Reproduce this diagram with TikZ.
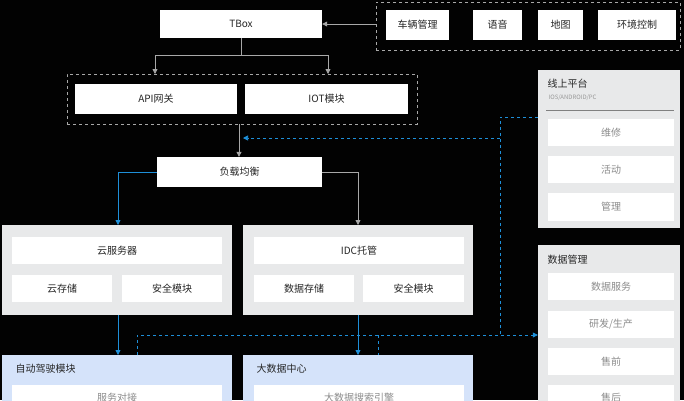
\documentclass[tikz,border=0pt]{standalone}
\usepackage{fontspec}
\setmainfont{Noto Sans CJK SC}
\usetikzlibrary{arrows.meta}
\definecolor{bgc}{HTML}{020202}
\definecolor{pan}{HTML}{E8E9EA}
\definecolor{lbc}{HTML}{D5E3FA}
\definecolor{bl}{HTML}{1E8FD8}
\definecolor{gl}{HTML}{A8A8A8}
\tikzset{
 wb/.style={fill=white,draw=none,font=\fontsize{10}{12}\selectfont,text=black!85},
 gi/.style={fill=white,draw=none,font=\fontsize{10}{12}\selectfont,text=black!45},
 panel/.style={fill=pan,draw=none},
 lpanel/.style={fill=lbc,draw=none},
 dbox/.style={draw=gl,dashed,line width=0.6pt},
 ga/.style={draw=gl,line width=0.8pt,-{Triangle[length=5pt,width=5pt]}},
 gln/.style={draw=gl,line width=0.8pt},
 ba/.style={draw=bl,line width=0.8pt,-{Triangle[length=5pt,width=5pt]}},
 bd/.style={draw=bl,line width=0.7pt,dashed},
 bda/.style={bd,-{Triangle[length=5pt,width=5pt]}},
 ttl/.style={font=\fontsize{10}{12}\selectfont,text=black!85,anchor=west},
}
\newcommand{\bx}[6]{\node[#1,minimum width=#4-#2,minimum height=#5-#3,inner sep=0pt] (#6) at ({(#2+#4)/2},{(#3+#5)/2})}
\begin{document}
\begin{tikzpicture}[x=1pt,y=-1pt]
\path[fill=bgc] (0,0) rectangle (684,400);
\useasboundingbox (0,0) rectangle (684,400);
% top right dashed group
\node[dbox,minimum width=304,minimum height=48,inner sep=0pt] (devs) at (528,26) {};
\bx{wb}{386}{10}{449}{40}{c1}{车辆管理};
\bx{wb}{473}{10}{522}{40}{c2}{语音};
\bx{wb}{538}{10}{583}{40}{c3}{地图};
\bx{wb}{598}{10}{676}{40}{c4}{环境控制};
\bx{wb}{160}{10}{322}{38}{tbox}{TBox};
\draw[ga] (devs.west |- tbox.east) -- (tbox.east);
% gateway group
\node[dbox,minimum width=350,minimum height=50,inner sep=0pt] (gw) at (242,99) {};
\bx{wb}{75}{84}{237}{114}{api}{API网关};
\bx{wb}{245}{84}{408}{114}{iot}{IOT模块};
\coordinate (sp) at (241,55);
\draw[gln] (tbox.south -| sp) -- (sp);
\draw[ga] (sp) -| (155,74);
\draw[ga] (sp) -| (328,74);
\bx{wb}{157}{157}{322}{187}{lb1}{负载均衡};
\draw[ga] (gw.south -| lb1.north) ++(-0.5,0) -- ([xshift=-0.5pt]lb1.north);
% cloud groups
\bx{panel}{2}{225}{232}{315}{gL}{};
\bx{panel}{243}{225}{473}{315}{gR}{};
\bx{wb}{12}{237}{222}{264}{cs}{云服务器};
\bx{wb}{12}{275}{112}{302}{cc}{云存储};
\bx{wb}{122}{275}{222}{302}{ca}{安全模块};
\bx{wb}{254}{237}{464}{264}{idc}{IDC托管};
\bx{wb}{254}{275}{354}{302}{ds}{数据存储};
\bx{wb}{363}{275}{464}{302}{da}{安全模块};
\draw[ba] (lb1.west) -| (118,225);
\draw[ga] (lb1.east) -| (358,225);
% bottom
\bx{lpanel}{2}{355}{232}{402}{ad}{};
\bx{lpanel}{243}{355}{473}{402}{bdc}{};
\node[ttl] (adt) at (12,369) {自动驾驶模块};
\node[ttl] (bdt) at (253,369) {大数据中心};
\bx{gi}{12}{385}{222}{410}{fw}{服务对接};
\bx{gi}{254}{385}{464}{410}{ss}{大数据搜索引擎};
\draw[ba] (118,315) -- (118,355);
\draw[ba] (358,315) -- (358,355);
% right panels
\bx{panel}{538}{70}{680}{228}{op}{};
\node[ttl] (opt) at (544,84) {线上平台};
\node[anchor=west,font=\fontsize{6}{7}\selectfont,text=black!40] (ops) at (545,98) {IOS/ANDROID/PC};
\draw[draw=black!50,line width=0.6pt] (546,110) -- (674,110);
\bx{gi}{548}{119}{674}{146}{o1}{维修};
\bx{gi}{548}{156}{674}{183}{o2}{活动};
\bx{gi}{548}{193}{674}{221}{o3}{管理};
\bx{panel}{538}{245}{680}{402}{dm}{};
\node[ttl] (dmt) at (544,260) {数据管理};
\bx{gi}{548}{273}{674}{300}{d1}{数据服务};
\bx{gi}{548}{311}{674}{338}{d2}{研发/生产};
\bx{gi}{548}{348}{674}{375}{d3}{售前};
\bx{gi}{548}{385}{674}{410}{d4}{售后};
% blue dashed
\draw[bd] (op.west |- 0,117) -- (500,117) -- (500,335);
\draw[bda] (500,138) -- (243,138);
\draw[bda] (137,355) -- (137,335) -- (dm.west |- 0,335);
\draw[bd] (378,335) -- (378,355);
\end{tikzpicture}
\end{document}
